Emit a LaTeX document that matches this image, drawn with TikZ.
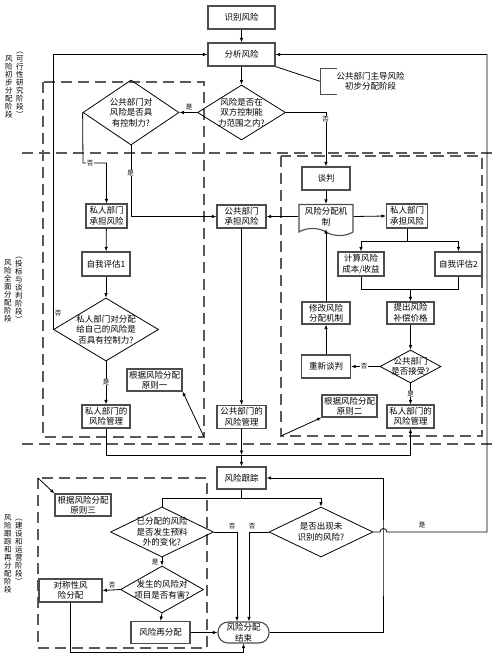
\documentclass[tikz,border=0pt]{standalone}
\usepackage{fontspec}
\setmainfont{Noto Sans CJK SC}
\usetikzlibrary{shapes.geometric,shapes.symbols,arrows.meta}
\newcommand{\boxfont}{\fontsize{8.5}{10.5}\selectfont}
\newcommand{\ynfont}{\fontsize{6.5}{7}\selectfont}
\newcommand{\sidefont}{\fontsize{7.5}{8}\selectfont}

\begin{document}
\begin{tikzpicture}[x=1pt,y=-1pt,line width=0.8pt,
    >={Latex[length=4.5pt,width=3.5pt]},
    box/.style={draw=black!70,line width=1.1pt,align=center,inner sep=1pt,font=\boxfont},
    dec/.style={draw,diamond,inner sep=0pt,label={[lbl]center:#1}},
    lbl/.style={align=center,inner sep=0pt,font=\boxfont},
    term/.style={box,rounded corners=10pt},
    mech/.style={box,tape,tape bend top=none,tape bend bottom=out and in,tape bend height=7pt},
    yn/.style={font=\ynfont,fill=white,inner sep=0.6pt},
    zone/.style={draw=black!65,line width=1.4pt,dash pattern=on 11pt off 6pt},
    side/.style={align=center,inner sep=0pt,font=\sidefont}]
        \useasboundingbox (0,0) rectangle (497,656);

        %%%%%%%%% Zone %%%%%%%%%%
        \coordinate (p1a) at (43,82);
        \coordinate (p1b) at (204,437);
        \coordinate (p2a) at (281,156);
        \coordinate (p2b) at (482,436);
        \coordinate (p3a) at (38,478);
        \coordinate (p3b) at (207,648);
        \draw[zone] (p1a) rectangle (p1b);
        \draw[zone] (p2a) rectangle (p2b);
        \draw[zone] (p3a) rectangle (p3b);
        \draw[zone] (22,153) -- (493,153);
        \draw[zone] (22,444) -- (493,444);

        %%%%%%%%% Fasi %%%%%%%%%%
        \node[side] (s1a) at (9,86.5) {风\\险\\初\\步\\分\\配\\阶\\段};
        \node[side] (s1b) at (20,85) {︵\\可\\行\\性\\研\\究\\阶\\段\\︶};
        \node[side] (s2a) at (8,290.5) {风\\险\\全\\面\\分\\配\\阶\\段};
        \node[side] (s2b) at (19,289.5) {︵\\投\\标\\与\\谈\\判\\阶\\段\\︶};
        \node[side] (s3a) at (8,553.5) {风\\险\\跟\\踪\\和\\再\\分\\配\\阶\\段};
        \node[side] (s3b) at (19,552) {︵\\建\\设\\和\\运\\营\\阶\\段\\︶};

        %%%%%%%% Fase 1 %%%%%%%%%
        \node[box,minimum width=67pt,minimum height=23pt] (id) at (241.5,17.5) {识别风险};
        \node[box,minimum width=67pt,minimum height=23pt] (an) at (241.5,54.5) {分析风险};
        \node[dec={风险是否在\\双方控制能\\力范围之内?},minimum width=88pt,minimum height=55pt] (d1) at (241.5,112.5) {};
        \node[dec={公共部门对\\风险是否具\\有控制力?},minimum width=96pt,minimum height=65pt] (d2) at (131,112.5) {};
        \node[lbl,minimum width=99pt,minimum height=25pt] (note) at (370.5,81.5) {公共部门主导风险\\初步分配阶段};

        %%%%%%%% Fase 2 %%%%%%%%%
        \node[box,minimum width=41pt,minimum height=24pt] (pv1) at (106.5,216) {私人部门\\承担风险};
        \node[box,minimum width=48pt,minimum height=24pt] (se1) at (106,264) {自我评估1};
        \node[dec={私人部门对分配\\给自己的风险是\\否具有控制力?},minimum width=105pt,minimum height=63pt] (d3) at (106,329.5) {};
        \node[box,minimum width=48pt,minimum height=23pt] (pm1) at (106,416.5) {私人部门的\\风险管理};
        \node[box,minimum width=55pt,minimum height=22pt] (r1) at (154.5,380) {根据风险分配\\原则一};
        \node[box,minimum width=49pt,minimum height=23pt] (pb) at (241.5,216.5) {公共部门\\承担风险};
        \node[box,minimum width=49pt,minimum height=23pt] (pbm) at (241.5,417) {公共部门的\\风险管理};
        \node[box,minimum width=48pt,minimum height=23pt] (tp) at (326,178.5) {谈判};
        \node[mech,minimum width=54pt,minimum height=31pt] (mc) at (326,216.5) {风险分配机\\制};
        \node[box,minimum width=41pt,minimum height=24pt] (pv2) at (407,216) {私人部门\\承担风险};
        \node[box,minimum width=46pt,minimum height=24pt] (cc) at (361,264) {计算风险\\成本/收益};
        \node[box,minimum width=47pt,minimum height=24pt] (se2) at (458.5,264) {自我评估2};
        \node[box,minimum width=47pt,minimum height=22pt] (ob) at (410.5,313) {提出风险\\补偿价格};
        \node[box,minimum width=48pt,minimum height=22pt] (mo) at (326,313) {修改风险\\分配机制};
        \node[dec={公共部门\\是否接受?},minimum width=61pt,minimum height=33pt] (d5) at (410.5,366.5) {};
        \node[box,minimum width=49pt,minimum height=23pt] (rn) at (326,366.5) {重新谈判};
        \node[box,minimum width=55pt,minimum height=22pt] (r2) at (349.5,406) {根据风险分配\\原则二};
        \node[box,minimum width=47pt,minimum height=23pt] (pm2) at (410.5,416.5) {私人部门的\\风险管理};

        %%%%%%%% Fase 3 %%%%%%%%%
        \node[box,minimum width=49pt,minimum height=22pt] (rg) at (241.5,478) {风险跟踪};
        \node[box,minimum width=56pt,minimum height=22pt] (r3) at (83,505) {根据风险分配\\原则三};
        \node[dec={已分配的风险\\是否发生预料\\外的变化?},minimum width=103pt,minimum height=50pt] (d6) at (162,532) {};
        \node[dec={是否出现未\\识别的风险?},minimum width=104pt,minimum height=50pt] (d4) at (321,532) {};
        \node[dec={发生的风险对\\项目是否有害?},minimum width=83pt,minimum height=47pt] (d7) at (162,589.5) {};
        \node[box,minimum width=63pt,minimum height=23pt] (sy) at (70.5,590.5) {对称性风\\险分配};
        \node[box,minimum width=59pt,minimum height=22pt] (rd) at (160.5,632.5) {风险再分配};
        \node[term,minimum width=51pt,minimum height=21pt] (end) at (243.5,632.5) {风险分配\\结束};

        %%%%%%% Frecce 1 %%%%%%%%
        \draw[->] (id) -- (an);
        \draw[->] (an) -- (d1);
        \draw (an.south east) -- (note.west);
        \draw[draw=black!70,line width=1.1pt] ([xshift=16pt]note.north west) -- (note.north west) -- (note.south west) -- ([xshift=16pt]note.south west);
        \draw[->] (d1.west) -- (d2.east);
        \draw[->] (d1.east) -| (tp.north);
        \coordinate (c1) at (83,163);
        \draw[->] (d2.west) -- (c1) -| (pv1.north);
        \draw[->] (d2.south) |- (pb.west);
        \draw[->] (d3.west) |- (an.west);
        \coordinate (rr) at (487,532);
        \draw[->] (d4.east) -- ++(6.5,0) arc[start angle=180,end angle=360,radius=3.5] -- (rr) |- (an.east);

        %%%%%%% Frecce 2 %%%%%%%%
        \draw[->] (pv1) -- (se1);
        \draw[->] (se1.south) -- (d3.north);
        \draw[->] (d3.south) -- (pm1.north);
        \draw[->] (pb) -- (pbm);
        \draw[->] (tp) -- (mc);
        \draw[->] (mc.west) -- (pb.east);
        \draw[->] (mc.east) -- (pv2.west);
        \coordinate (br) at ([yshift=-13pt]pv2.south);
        \draw (pv2.south) -- (br);
        \draw[->] (br) -| (cc.north);
        \draw[->] (br) -| (se2.north);
        \coordinate (mg) at ([yshift=12pt]ob.north);
        \draw (cc.south) |- (mg) -| (se2.south);
        \draw[->] (mg) -- (ob.north);
        \draw[->] (ob.south) -- (d5.north);
        \draw[->] (d5.west) -- (rn.east);
        \draw[->] (rn.north) -- (mo.south);
        \draw[->] (mo.north) -- (mc.south);
        \draw[->] (d5.south) -- (pm2.north);
        \draw[->] (p1b) -- (r1.south east);
        \draw[->] (p2a |- p2b) -- (r2.south west);

        %%%%%%% Frecce 3 %%%%%%%%
        \coordinate (jn) at ([yshift=-26pt]pbm.south);
        \draw[->] (pbm) -- (jn);
        \draw[->] (jn) -- (rg);
        \draw (pm1.south) |- (jn);
        \draw[->] (jn) -| (pm2.south);
        \coordinate (sp) at ([yshift=-9pt]rg.south);
        \draw (rg) -- (sp);
        \draw (sp) -| (d6.north);
        \draw[->] (sp) -| (d4.north);
        \draw[->] (d6.east) -| ([xshift=-6.5pt]end.north);
        \draw[->] (d4.west) -| ([xshift=5.5pt]end.north);
        \draw[->] (d6.south) -- (d7.north);
        \draw[->] (d7.west) -- (sy.east);
        \draw[->] (d7.south) -- (rd.north);
        \draw[->] (rd) -- (end);
        \draw[->] (sy.south) -- ++(0,50) -| (end.south);
        \coordinate (rk) at (383,560);
        \draw[->] (end.east) -| (rk) |- (rg.east);
        \draw[->] (p3a) -- (r3.north west);

        %%%%%%%% Si / No %%%%%%%%%
        \node[yn] (y1) at (189,107) {是};
        \node[yn] (n1) at (325.5,119) {否};
        \node[yn] (n2) at (90,163) {否};
        \node[yn] (y2) at (130.5,173) {是};
        \node[yn] (n3) at (58,313) {否};
        \node[yn] (y3) at (106,382) {是};
        \node[yn] (n4) at (364,366.5) {否};
        \node[yn] (y4) at (410.5,394) {是};
        \node[yn] (n5) at (232,526) {否};
        \node[yn] (n6) at (252,526) {否};
        \node[yn] (y5) at (422,525) {是};
        \node[yn] (y6) at (155,562) {是};
        \node[yn] (n7) at (112,585) {否};
    \end{tikzpicture}
\end{document}
